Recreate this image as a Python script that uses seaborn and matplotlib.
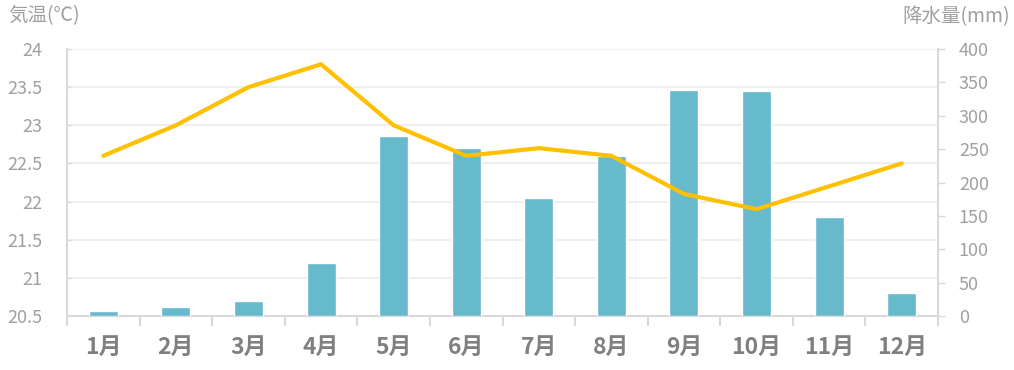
import numpy as np
import pandas as pd
import matplotlib
matplotlib.use("Agg")
import matplotlib.pyplot as plt
import seaborn as sns
from matplotlib.ticker import FixedLocator

months = ["1月", "2月", "3月", "4月", "5月", "6月", "7月", "8月", "9月", "10月", "11月", "12月"]
temperature = [22.6, 23.0, 23.5, 23.8, 23.0, 22.6, 22.7, 22.6, 22.1, 21.9, 22.2, 22.5]
precipitation = [7, 14, 22, 79, 270, 252, 177, 240, 339, 337, 148, 34]
temp_ticks = [20.5, 21, 21.5, 22, 22.5, 23, 23.5, 24]
temp_labels = ["20.5", "21", "21.5", "22", "22.5", "23", "23.5", "24"]
prec_ticks = [0, 50, 100, 150, 200, 250, 300, 350, 400]

sns.set_style("white")
plt.rcParams['font.family'] = ['Noto Sans CJK JP', 'DejaVu Sans']

df = pd.DataFrame({"month": months, "temp": temperature, "prec": precipitation})

fig = plt.figure(figsize=(10.14, 3.70), dpi=100)
ax = fig.add_axes([67/1014, 1 - 316/370, (938-67)/1014, (316-49)/370])

bar_color = "#67B9CC"
line_color = "#FFC000"
axis_gray = "#D9D9D9"
text_gray = "#A0A0A0"

# Base axis: temperature scale, left ticks, grid
ax.set_ylim(20.5, 24)
ax.set_yticks(temp_ticks)
ax.set_yticklabels(temp_labels, fontsize=13, color=text_gray)
ax.tick_params(axis="y", left=True, right=False, length=3, width=1, color=axis_gray,
               direction="in", pad=18)
ax.grid(axis="y", color="#EFEFEF", linewidth=1.5)
for side in ["top", "right"]:
    ax.spines[side].set_visible(False)
for side in ["left", "bottom"]:
    ax.spines[side].set_visible(True)
    ax.spines[side].set_color(axis_gray)
    ax.spines[side].set_linewidth(1.5)

# Bars: precipitation, right axis
ax2 = ax.twinx()
sns.barplot(data=df, x="month", y="prec", color=bar_color, width=0.4,
            saturation=1, ax=ax2)
ax2.set_ylim(0, 400)
ax2.yaxis.tick_right()
ax2.set_yticks(prec_ticks)
ax2.set_yticklabels([str(v) for v in prec_ticks], fontsize=13, color=text_gray)
ax2.tick_params(axis="y", which="major", right=True, left=False, length=5, width=1,
                color=axis_gray, pad=10)
ax2.set_xlabel("")
ax2.set_ylabel("")
ax2.grid(False)
for side in ["top", "left", "bottom"]:
    ax2.spines[side].set_visible(False)
ax2.spines["right"].set_visible(True)
ax2.spines["right"].set_color(axis_gray)
ax2.spines["right"].set_linewidth(1.5)

# Line: temperature
ax3 = ax.twinx()
sns.pointplot(data=df, x="month", y="temp", color=line_color, markers="",
              linewidth=3.0, ax=ax3, errorbar=None)
for ln in ax3.lines:
    ln.set_solid_capstyle("round")
ax3.set_ylim(20.5, 24)
ax3.set_xlabel("")
ax3.set_ylabel("")
ax3.set_yticks([])
ax3.grid(False)
for side in ["top", "left", "right", "bottom"]:
    ax3.spines[side].set_visible(False)

# Shared x axis (shown on base axis)
ax.set_xlim(-0.5, 11.5)
ax.set_xticks(range(12))
ax.set_xticklabels(months, fontsize=16.5, fontweight="bold", color="#808080")
ax.tick_params(axis="x", which="major", bottom=True, length=0, pad=14)
ax.xaxis.set_minor_locator(FixedLocator(np.arange(-0.5, 12, 1)))
ax.tick_params(axis="x", which="minor", bottom=True, length=7, width=1.5, color=axis_gray)
ax.set_xlabel("")

fig.text(8/1014, 1 - 16/370, "気温(℃)", fontsize=14, color=text_gray, ha="left", va="center")
fig.text(1010/1014, 1 - 17/370, "降水量(mm)", fontsize=14, color=text_gray, ha="right", va="center")

fig.savefig("out.png", dpi=100)
